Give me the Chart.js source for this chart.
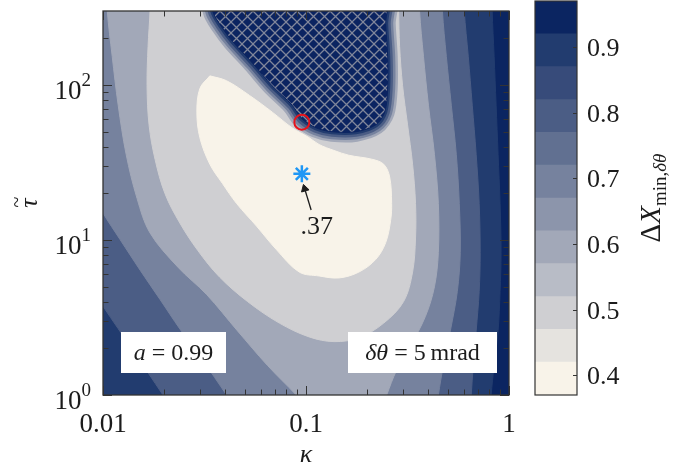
<!DOCTYPE html>
<html>
<head>
<meta charset="utf-8">
<script src="https://cdn.jsdelivr.net/npm/chart.js@4.4.1/dist/chart.umd.min.js"></script>
<style>
  body { margin: 0; background: #fff; }
  #wrap { position: relative; width: 690px; height: 470px; }
  #map { position: absolute; left: 0; top: 0; }
  #bar { position: absolute; left: 520px; top: 0; }
</style>
</head>
<body>
<div id="wrap">
  <canvas id="map" width="520" height="470"></canvas>
  <canvas id="bar" width="170" height="470"></canvas>
</div>
<script>
// colour scale: band edges and colours, bottom to top
const cbEdges = [0.37, 0.42, 0.47, 0.52, 0.57, 0.62, 0.67, 0.72, 0.77, 0.82, 0.87, 0.92, 0.97];
const cbColors = ['#f8f3e9', '#e5e3df', '#cfcfd2', '#b8bcc6', '#a2a8b8', '#8c95ab',
                  '#76829e', '#617091', '#4b5d85', '#374b7a', '#223c6f', '#0b2561'];
const cbTicks = [0.4, 0.5, 0.6, 0.7, 0.8, 0.9];

const xTicks = [0.01, 0.1, 1];
const yTicks = [1, 10, 100];

// filled contour outlines, [kappa, tau] pairs; each encloses the region below its level
const contourLevels = [0.47, 0.57, 0.67, 0.77, 0.87, 0.97];
const lvl047 = [[0.0336, 114.5], [0.0406, 106.5], [0.0527, 85.6], [0.0682, 66.8], [0.0855, 52.9],
  [0.1036, 45.7], [0.116, 41.3], [0.1374, 37.8], [0.1627, 35.2], [0.2109, 33.2], [0.2415, 30.8],
  [0.2583, 25.5], [0.2642, 17.2], [0.2612, 13.4], [0.247, 9.62], [0.2207, 7.5], [0.1822, 6.21],
  [0.1453, 5.69], [0.116, 5.86], [0.0926, 6.21], [0.0714, 8.68], [0.057, 12.3], [0.0455, 17.2],
  [0.0388, 23.1], [0.0336, 30.8], [0.030, 45.7], [0.029, 66.8], [0.030, 94.8], [0.0336, 114.5]];
const lvl057 = [[0.01705, 395], [0.01705, 300], [0.01667, 177], [0.01648, 99], [0.01686, 55.3],
  [0.01804, 33.2], [0.0202, 19.9], [0.0239, 12.87], [0.0293, 8.56], [0.0375, 5.77], [0.0515, 4.01],
  [0.0739, 2.91], [0.1036, 2.37], [0.1374, 2.21], [0.1822, 2.34], [0.2415, 2.91], [0.3026, 4.01],
  [0.335, 6.21], [0.3464, 10.3], [0.3464, 17.2], [0.335, 30.8], [0.3165, 55.3], [0.2991, 99],
  [0.2892, 177], [0.286, 300], [0.286, 395], [0.01705, 395]];
const lvl067 = [[0.0105, 395], [0.0105, 300], [0.0111, 153], [0.01188, 74], [0.0130, 35.7],
  [0.01472, 18.5], [0.01705, 11.1], [0.02338, 6.68], [0.03243, 4.44], [0.046, 2.59], [0.0645, 1.555],
  [0.0895, 1.0], [0.1036, 0.8], [0.236, 0.8], [0.2498, 1.0], [0.2796, 1.446], [0.3274, 2.08],
  [0.3877, 3.22], [0.4292, 4.99], [0.4487, 8.31], [0.4487, 17.2], [0.4292, 35.7], [0.401, 74],
  [0.379, 153], [0.3625, 300], [0.3625, 395], [0.0105, 395]];
const lvl077 = [[0.00917, 395], [0.4698, 395], [0.4698, 300], [0.4913, 153], [0.5198, 74], [0.55, 35.7],
  [0.569, 17.2], [0.5754, 8.31], [0.5562, 4.64], [0.514, 2.59], [0.475, 1.555], [0.4487, 1.0],
  [0.439, 0.8], [0.0455, 0.8], [0.0406, 1.0], [0.031, 1.673], [0.0239, 2.67], [0.0191, 4.13],
  [0.01523, 6.39], [0.01215, 10.04], [0.010, 14.9], [0.00917, 18.5], [0.00917, 395]];
const lvl087 = [[0.00897, 395], [0.602, 395], [0.602, 300], [0.63, 153], [0.6592, 74], [0.689, 35.7],
  [0.7129, 17.2], [0.7211, 8.31], [0.7129, 4.64], [0.689, 2.59], [0.6668, 1.555], [0.6515, 1.0],
  [0.6442, 0.8], [0.0221, 0.8], [0.01974, 1.0], [0.01407, 1.935], [0.010, 3.73], [0.00897, 4.64],
  [0.00897, 395]];
const lvl097 = [[0.00917, 395], [0.8262, 395], [0.8262, 300], [0.8446, 153], [0.864, 74], [0.8835, 35.7],
  [0.9036, 17.2], [0.9139, 8.31], [0.9036, 4.64], [0.8835, 2.59], [0.8446, 1.555], [0.8166, 1.0],
  [0.8074, 0.8], [0.00917, 0.8], [0.00917, 395]];

// hatched region with no valid solution
const excluded = [[0.0347, 425], [0.0347, 300], [0.0384, 237], [0.0435, 190.7], [0.0545, 138.4],
  [0.068, 99], [0.0855, 74], [0.0957, 60.3], [0.1121, 52.9], [0.1343, 49.9], [0.1761, 49.9],
  [0.2207, 55.3], [0.2442, 66.8], [0.2526, 94.8], [0.2526, 153], [0.247, 248], [0.247, 425], [0.0347, 425]];

// optimum and boundary point
const minPoint = [0.0954, 26.7];
const minValue = 0.37;
const edgePoint = [0.0954, 57.5];
const arrowFrom = [0.106, 15.6];
const arrowTo = [0.0985, 21.4];
const minLabelAt = [0.113, 12.1];

const serif = '"Liberation Serif", "DejaVu Serif", serif';
const ink = '#1c1c1c';

const toXY = arr => arr.map(p => ({ x: p[0], y: p[1] }));
const bandColor = lvl => cbColors[Math.round((lvl - 0.1 - cbEdges[0]) / 0.05)];

function hatch() {
  const s = 11;
  const c = document.createElement('canvas');
  c.width = c.height = s;
  const g = c.getContext('2d');
  g.fillStyle = '#0b2461';
  g.fillRect(0, 0, s, s);
  g.strokeStyle = '#80869a';
  g.lineWidth = 1.3;
  g.beginPath();
  g.moveTo(-1, -1); g.lineTo(s + 1, s + 1);
  g.moveTo(s + 1, -1); g.lineTo(-1, s + 1);
  g.stroke();
  return g.createPattern(c, 'repeat');
}

function richText(ctx, parts, x, y) {
  let w = 0;
  parts.forEach(p => { ctx.font = p[1]; w += ctx.measureText(p[0]).width; });
  let cx = x - w / 2;
  ctx.textAlign = 'left';
  parts.forEach(p => {
    ctx.font = p[1];
    ctx.fillText(p[0], cx, y + (p[2] || 0));
    cx += ctx.measureText(p[0]).width;
  });
}

const datasets = [];
[lvl047, lvl057, lvl067, lvl077, lvl087, lvl097].forEach((o, i) => {
  const col = bandColor(contourLevels[i]);
  datasets.push({
    data: toXY(o), showLine: true, fill: 'shape', backgroundColor: col,
    borderColor: col, borderWidth: 1, pointRadius: 0, tension: 0.35, clip: 0, order: 20 + i
  });
});
// steep rise of the field right at the edge of the excluded region
[[20, 4], [15, 6], [10, 8], [5, 10]].forEach((r, i) => {
  datasets.push({
    data: toXY(excluded), showLine: true, fill: false, borderColor: cbColors[r[1]],
    borderWidth: r[0], borderJoinStyle: 'round', pointRadius: 0, tension: 0.3, clip: 0, order: 15 - i
  });
});
datasets.push({
  data: toXY(excluded), showLine: true, fill: 'shape', backgroundColor: hatch(),
  borderColor: '#0b2461', borderWidth: 1, pointRadius: 0, tension: 0.3, clip: 0, order: 10
});
datasets.push({
  data: toXY([arrowFrom, arrowTo]), showLine: true, borderColor: ink, borderWidth: 1.3,
  pointRadius: [0, 4.5], pointStyle: 'triangle', pointRotation: [0, -16],
  pointBackgroundColor: ink, pointBorderColor: ink, pointBorderWidth: 1, clip: 0, order: 3
});
datasets.push({
  data: toXY([edgePoint]), pointStyle: 'circle', pointRadius: 7.5, pointBorderWidth: 2,
  pointBorderColor: '#e8131b', pointBackgroundColor: 'rgba(0,0,0,0)', order: 2
});
datasets.push({
  data: toXY([minPoint]), pointStyle: 'star', pointRadius: 8.5, pointBorderWidth: 2.5,
  pointBorderColor: '#1f97f5', pointBackgroundColor: '#1f97f5', order: 1
});

const mapDeco = {
  id: 'mapDeco',
  beforeDatasetsDraw(chart) {
    const { ctx, chartArea: a } = chart;
    ctx.save();
    ctx.fillStyle = cbColors[cbColors.length - 1];
    ctx.fillRect(a.left, a.top, a.right - a.left, a.bottom - a.top);
    ctx.restore();
  },
  afterDraw(chart) {
    const { ctx, chartArea: a, scales: { x, y } } = chart;
    ctx.save();
    ctx.fillStyle = ink;

    // value at the optimum
    ctx.font = `26px ${serif}`;
    ctx.textAlign = 'center';
    ctx.textBaseline = 'middle';
    ctx.fillText(minValue.toFixed(2).replace(/^0/, ''),
      x.getPixelForValue(minLabelAt[0]), y.getPixelForValue(minLabelAt[1]));
    ctx.textBaseline = 'alphabetic';

    // parameter boxes
    ctx.fillStyle = '#fff';
    ctx.fillRect(a.left + 18, a.bottom - 63, 105, 41);
    ctx.fillRect(a.left + 245, a.bottom - 63, 149, 41);
    ctx.fillStyle = ink;
    richText(ctx, [['a', `italic 24px ${serif}`], [' = 0.99', `24px ${serif}`]], a.left + 70.5, a.bottom - 35);
    richText(ctx, [['δθ', `italic 24px ${serif}`], [' = 5\u2009mrad', `24px ${serif}`]], a.left + 319.5, a.bottom - 35);

    // frame and inward ticks on all four sides
    ctx.strokeStyle = '#333';
    ctx.lineWidth = 1.3;
    ctx.strokeRect(a.left, a.top, a.right - a.left, a.bottom - a.top);
    ctx.lineWidth = 1;
    ctx.beginPath();
    const xs = [], ys = [];
    xTicks.forEach(d => { xs.push([d, 9]); if (d < 1) for (let k = 2; k < 10; k++) xs.push([d * k, 5.5]); });
    yTicks.forEach(d => { ys.push([d, 9]); for (let k = 2; k < 10; k++) if (d * k < 300) ys.push([d * k, 5.5]); });
    xs.forEach(([v, len]) => {
      const px = Math.round(x.getPixelForValue(v)) + 0.5;
      ctx.moveTo(px, a.bottom); ctx.lineTo(px, a.bottom - len);
      ctx.moveTo(px, a.top); ctx.lineTo(px, a.top + len);
    });
    ys.forEach(([v, len]) => {
      const py = Math.round(y.getPixelForValue(v)) + 0.5;
      ctx.moveTo(a.left, py); ctx.lineTo(a.left + len, py);
      ctx.moveTo(a.right, py); ctx.lineTo(a.right - len, py);
    });
    ctx.stroke();

    // tick labels
    ctx.font = `27px ${serif}`;
    ctx.textAlign = 'center';
    xTicks.forEach(v => ctx.fillText(String(v), x.getPixelForValue(v), a.bottom + 37));
    yTicks.forEach(v => {
      const py = y.getPixelForValue(v);
      const ex = String(Math.round(Math.log10(v)));
      ctx.font = `19px ${serif}`;
      const ew = ctx.measureText(ex).width;
      ctx.textAlign = 'right';
      ctx.fillText(ex, a.left - 12, py + 1);
      ctx.font = `27px ${serif}`;
      ctx.fillText('10', a.left - 12 - ew, py + 14);
    });

    // axis titles
    ctx.textAlign = 'center';
    ctx.font = `italic 26px ${serif}`;
    ctx.fillText('κ', (a.left + a.right) / 2, a.bottom + 67);
    ctx.translate(37, (a.top + a.bottom) / 2);
    ctx.rotate(-Math.PI / 2);
    ctx.fillText('τ', 0, 0);
    ctx.font = `20px ${serif}`;
    ctx.fillText('~', 1, -14);
    ctx.restore();
  }
};

new Chart(document.getElementById('map'), {
  type: 'scatter',
  data: { datasets },
  options: {
    responsive: false,
    animation: false,
    events: [],
    layout: { padding: { left: 103, right: 9, top: 4, bottom: 75 } },
    elements: { line: { capBezierPoints: false } },
    scales: {
      x: { type: 'logarithmic', min: 0.01, max: 1, display: false },
      y: { type: 'logarithmic', min: 1, max: 300, display: false }
    },
    plugins: { legend: { display: false }, tooltip: { enabled: false } }
  },
  plugins: [mapDeco]
});

// colour bar: each band drawn from the bottom edge so neighbours overlap cleanly
const barDeco = {
  id: 'barDeco',
  afterDraw(chart) {
    const { ctx, chartArea: a, scales: { y } } = chart;
    ctx.save();
    ctx.strokeStyle = '#333';
    ctx.lineWidth = 1.2;
    ctx.strokeRect(a.left, a.top, a.right - a.left, a.bottom - a.top);
    ctx.lineWidth = 1;
    ctx.beginPath();
    cbTicks.forEach(t => {
      const py = Math.round(y.getPixelForValue(t)) + 0.5;
      ctx.moveTo(a.right, py); ctx.lineTo(a.right - 4, py);
    });
    ctx.stroke();
    ctx.fillStyle = ink;
    ctx.font = `26px ${serif}`;
    ctx.textAlign = 'left';
    cbTicks.forEach(t => ctx.fillText(t.toFixed(1), a.right + 10, y.getPixelForValue(t) + 9));

    ctx.translate(a.right + 83, (a.top + a.bottom) / 2);
    ctx.rotate(-Math.PI / 2);
    richText(ctx, [
      ['Δ', `29px ${serif}`],
      ['X', `italic 29px ${serif}`],
      ['min,', `19px ${serif}`, 6],
      ['δθ', `italic 19px ${serif}`, 6]
    ], 0, 0);
    ctx.restore();
  }
};

new Chart(document.getElementById('bar'), {
  type: 'bar',
  data: {
    labels: [''],
    datasets: cbColors.map((c, i) => ({
      data: [[cbEdges[0], cbEdges[i + 1]]],
      backgroundColor: c,
      borderWidth: 0,
      barPercentage: 1,
      categoryPercentage: 1,
      grouped: false,
      order: i
    }))
  },
  options: {
    responsive: false,
    animation: false,
    events: [],
    layout: { padding: { left: 15, right: 113, top: 1, bottom: 75 } },
    scales: {
      x: { display: false },
      y: { display: false, min: 0.37, max: 0.97 }
    },
    plugins: { legend: { display: false }, tooltip: { enabled: false } }
  },
  plugins: [barDeco]
});
</script>
</body>
</html>
